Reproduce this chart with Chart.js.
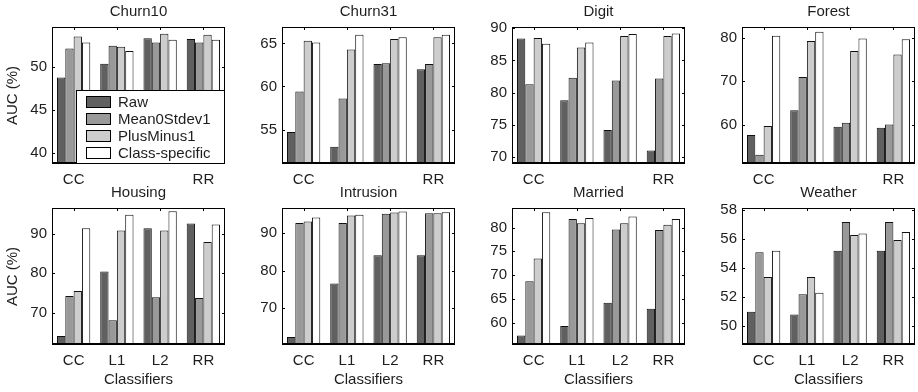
<!DOCTYPE html>
<html>
<head>
<meta charset="utf-8">
<script src="https://cdn.jsdelivr.net/npm/chart.js@4.4.0/dist/chart.umd.min.js"></script>
<style>
  html, body { margin: 0; padding: 0; background: #fff; overflow: hidden; }
  #wrap { position: relative; width: 918px; height: 392px; }
  #wrap canvas { position: absolute; }
</style>
</head>
<body>
<div id="wrap"></div>
<script>
const classifiers = ['CC', 'L1', 'L2', 'RR'];
const seriesNames = ['Raw', 'Mean0Stdev1', 'PlusMinus1', 'Class-specific'];
const panelTitles = ['Churn10', 'Churn31', 'Digit', 'Forest', 'Housing', 'Intrusion', 'Married', 'Weather'];

// one row per series (Raw, Mean0Stdev1, PlusMinus1, Class-specific), one value per classifier
const churn10 = [
    [48.8, 50.4, 53.4, 53.3],
    [52.2, 52.5, 52.9, 52.9],
    [53.6, 52.4, 53.9, 53.8],
    [52.9, 51.9, 53.2, 53.2]
];
const churn31 = [
    [54.7, 53.0, 62.6, 62.0],
    [59.4, 58.6, 62.7, 62.6],
    [65.3, 64.3, 65.5, 65.7],
    [65.1, 66.0, 65.7, 66.0]
];
const digit = [
    [88.4, 78.8, 74.2, 71.0],
    [81.3, 82.3, 81.9, 82.2],
    [88.5, 87.0, 88.8, 88.8],
    [87.6, 87.8, 89.1, 89.2]
];
const forest = [
    [57.7, 63.4, 59.6, 59.4],
    [53.2, 71.0, 60.5, 60.1],
    [59.8, 79.2, 76.9, 76.1],
    [80.4, 81.3, 79.8, 79.6]
];
const housing = [
    [64.1, 80.4, 91.4, 92.6],
    [74.2, 68.1, 73.9, 73.7],
    [75.5, 90.8, 90.8, 87.9],
    [91.4, 94.8, 95.7, 92.3]
];
const intrusion = [
    [62.3, 76.6, 84.1, 84.1],
    [92.7, 92.7, 95.2, 95.3],
    [93.1, 94.7, 95.5, 95.3],
    [94.2, 94.9, 95.8, 95.6]
];
const married = [
    [57.3, 59.3, 64.2, 62.9],
    [68.7, 81.8, 79.6, 79.5],
    [73.5, 80.9, 80.9, 80.6],
    [83.2, 82.0, 82.3, 81.8]
];
const weather = [
    [51.0, 50.8, 55.2, 55.2],
    [55.1, 52.2, 57.2, 57.2],
    [53.4, 53.4, 56.3, 55.95],
    [55.2, 52.3, 56.4, 56.5]
];
const panelData = [churn10, churn31, digit, forest, housing, intrusion, married, weather];

// axis limits and tick step per panel
const yMin = [38.7, 51.0, 68.9, 51.1, 61.8, 60.2, 55.3, 48.7];
const yMax = [54.7, 66.9, 90.2, 82.4, 96.5, 96.7, 84.1, 58.16];
const yStep = [5, 5, 5, 10, 10, 10, 5, 2];

const seriesColors = ['#606060', '#999999', '#cdcdcd', '#ffffff'];
const TEXT = '#1e1e1e';
const FONT = '"Liberation Sans", Arial, Helvetica, sans-serif';

Chart.defaults.font.family = FONT;
Chart.defaults.font.size = 15;
Chart.defaults.color = TEXT;

// MATLAB-like box with inward tick marks
const axesBox = {
    id: 'axesBox',
    afterDatasetsDraw: (chart) => {
        const { ctx, chartArea: a, scales: { x, y } } = chart;
        ctx.save();
        ctx.strokeStyle = '#000';
        ctx.lineWidth = 1;
        ctx.beginPath();
        y.ticks.forEach(t => {
            const py = Math.round(y.getPixelForValue(t.value)) + 0.5;
            ctx.moveTo(a.left, py); ctx.lineTo(a.left + 3, py);
            ctx.moveTo(a.right, py); ctx.lineTo(a.right - 3, py);
        });
        x.ticks.forEach((t, i) => {
            const px = Math.round(x.getPixelForTick(i)) + 0.5;
            ctx.moveTo(px, a.top); ctx.lineTo(px, a.top + 3);
        });
        ctx.stroke();
        ctx.strokeRect(Math.round(a.left) + 0.5, Math.round(a.top) + 0.5,
            Math.round(a.right - a.left) - 1, Math.round(a.bottom - a.top) - 1);
        ctx.lineWidth = 2;
        ctx.beginPath();
        ctx.moveTo(a.left, Math.round(a.bottom) - 1);
        ctx.lineTo(a.right, Math.round(a.bottom) - 1);
        ctx.stroke();
        ctx.restore();
    }
};

// legend drawn inside the lower right corner of the first panel
const insideLegend = {
    id: 'insideLegend',
    afterDraw: (chart) => {
        const { ctx, chartArea: a } = chart;
        const boxW = 149, boxH = 74, rowH = 17;
        const left = Math.round(a.right) - boxW;
        const top = Math.round(a.bottom) - boxH;
        ctx.save();
        ctx.fillStyle = '#fff';
        ctx.fillRect(left, top, boxW, boxH);
        ctx.strokeStyle = '#000';
        ctx.lineWidth = 1;
        ctx.strokeRect(left + 0.5, top + 0.5, boxW - 1, boxH - 1);
        ctx.font = '15px ' + FONT;
        ctx.textBaseline = 'middle';
        chart.data.datasets.forEach((ds, i) => {
            const cy = top + 12 + i * rowH;
            ctx.fillStyle = ds.backgroundColor;
            ctx.fillRect(left + 10, cy - 6, 25, 12);
            ctx.strokeRect(left + 10.5, cy - 5.5, 24, 11);
            ctx.fillStyle = TEXT;
            ctx.fillText(ds.label, left + 42, cy + 1);
        });
        ctx.restore();
    }
};

const wrap = document.getElementById('wrap');

panelTitles.forEach((title, idx) => {
    const col = idx % 4;
    const row = Math.floor(idx / 4);
    const w = 228, h = row ? 211 : 196;
    const canvas = document.createElement('canvas');
    canvas.width = w;
    canvas.height = h;
    canvas.style.width = w + 'px';
    canvas.style.height = h + 'px';
    canvas.style.left = (col * 230) + 'px';
    canvas.style.top = (row ? 181 : 0) + 'px';
    wrap.appendChild(canvas);

    const datasets = seriesNames.map((name, s) => ({
        label: name,
        data: panelData[idx][s],
        backgroundColor: seriesColors[s],
        borderColor: '#111',
        borderWidth: 1,
        borderSkipped: 'start',
        barPercentage: 1,
        categoryPercentage: 0.77,
        clip: 0
    }));

    new Chart(canvas, {
        type: 'bar',
        data: { labels: classifiers, datasets: datasets },
        options: {
            responsive: false,
            animation: false,
            devicePixelRatio: 1,
            layout: { padding: { left: 0, right: 3, top: 0, bottom: 0 } },
            plugins: {
                legend: { display: false },
                tooltip: { enabled: false },
                title: {
                    display: true,
                    text: title,
                    fullSize: false,
                    color: TEXT,
                    font: { size: 15, weight: 'normal' },
                    padding: { top: 3, bottom: 6 }
                }
            },
            scales: {
                x: {
                    grid: { display: false, drawTicks: false },
                    border: { display: false },
                    ticks: {
                        padding: 7,
                        maxRotation: 0,
                        autoSkip: false,
                        callback: (v, i) => (row === 0 && (i === 1 || i === 2)) ? '' : classifiers[i]
                    },
                    title: {
                        display: row === 1,
                        text: 'Classifiers',
                        color: TEXT,
                        padding: { top: 0, bottom: 3 }
                    },
                    afterFit: (s) => { s.height = row ? 47 : 32; }
                },
                y: {
                    min: yMin[idx],
                    max: yMax[idx],
                    grid: { display: false, drawTicks: false },
                    border: { display: false },
                    ticks: { stepSize: yStep[idx], includeBounds: false, padding: 5 },
                    title: {
                        display: col === 0,
                        text: 'AUC (%)',
                        color: TEXT,
                        padding: { top: 4, bottom: 0 }
                    },
                    afterFit: (s) => { s.width = 52; }
                }
            }
        },
        plugins: idx === 0 ? [axesBox, insideLegend] : [axesBox]
    });
});
</script>
</body>
</html>
